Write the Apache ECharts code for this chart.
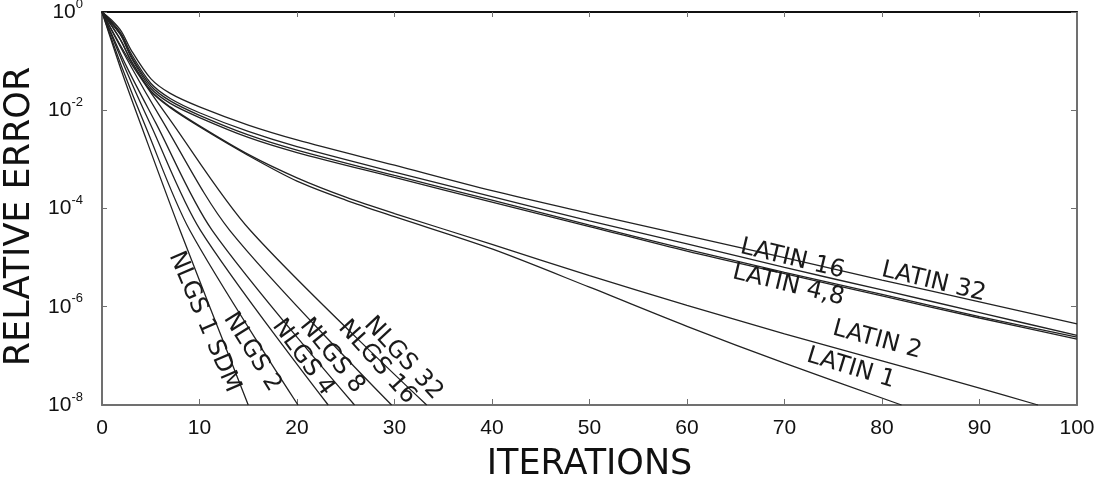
<!DOCTYPE html>
<html>
<head>
<meta charset="utf-8">
<title>Relative error vs iterations</title>
<script src="https://cdn.jsdelivr.net/npm/echarts@6/dist/echarts.min.js"></script>
<style>
  html, body { margin: 0; padding: 0; background: #fff; }
  #chart { width: 1095px; height: 484px; }
</style>
</head>
<body>
<div id="chart"></div>
<script>
// iterations sampled for the LATIN runs
const latinIter = [0, 1, 2, 3, 5, 7, 10, 15, 20, 30, 40, 50, 60, 70, 80, 90, 100]
const latin32 = [1, 0.68, 0.40, 0.166, 4.4e-2, 2.2e-2, 1.17e-2, 5.0e-3, 2.5e-3, 7.6e-4, 2.3e-4, 7.9e-5, 2.8e-5, 1.0e-5, 3.5e-6, 1.26e-6, 4.5e-7]
const latin16 = [1, 0.63, 0.355, 0.141, 3.55e-2, 1.74e-2, 8.9e-3, 3.7e-3, 1.82e-3, 5.5e-4, 1.74e-4, 5.6e-5, 1.9e-5, 6.3e-6, 2.2e-6, 7.6e-7, 2.6e-7]
const latin8 = [1, 0.60, 0.33, 0.126, 3.16e-2, 1.55e-2, 7.9e-3, 3.16e-3, 1.55e-3, 4.7e-4, 1.48e-4, 4.6e-5, 1.48e-5, 5.0e-6, 1.78e-6, 6.3e-7, 2.4e-7]
const latin4 = [1, 0.575, 0.316, 0.117, 2.8e-2, 1.38e-2, 7.1e-3, 2.8e-3, 1.38e-3, 4.3e-4, 1.35e-4, 4.3e-5, 1.35e-5, 4.7e-6, 1.66e-6, 5.9e-7, 2.2e-7]

const latin2Iter = [0, 1, 2, 3, 5, 7, 10, 15, 20, 25, 30, 40, 50, 60, 70, 80, 90, 96]
const latin2 = [1, 0.52, 0.25, 0.1, 2.5e-2, 1.17e-2, 4.8e-3, 1.26e-3, 4.2e-4, 1.7e-4, 7.9e-5, 1.86e-5, 4.3e-6, 1.07e-6, 2.8e-7, 7.9e-8, 2.2e-8, 1e-8]

const latin1Iter = [0, 1, 2, 3, 5, 7, 10, 15, 20, 25, 30, 40, 50, 60, 70, 82]
const latin1 = [1, 0.52, 0.25, 0.1, 2.45e-2, 1.12e-2, 4.6e-3, 1.2e-3, 3.6e-4, 1.48e-4, 6.8e-5, 1.5e-5, 2.5e-6, 4.0e-7, 7.1e-8, 1e-8]

// NLGS runs drop almost straight (in log) down to 1e-8
const nlgs1Iter = [0, 2, 4, 8, 15]
const nlgs1 = [1, 6.3e-2, 5.0e-3, 3.6e-5, 1e-8]
const nlgs2Iter = [0, 2, 4.5, 9, 20.1]
const nlgs2 = [1, 7.9e-2, 4.5e-3, 3.6e-5, 1e-8]
const nlgs4Iter = [0, 2.5, 5, 10.1, 23.2]
const nlgs4 = [1, 6.3e-2, 5.0e-3, 3.6e-5, 1e-8]
const nlgs8Iter = [0, 2.5, 5.5, 11.3, 25.9]
const nlgs8 = [1, 7.9e-2, 5.6e-3, 3.6e-5, 1e-8]
const nlgs16Iter = [0, 3, 6, 13.1, 29.7]
const nlgs16 = [1, 7.6e-2, 7.1e-3, 3.6e-5, 1e-8]
const nlgs32Iter = [0, 3, 7, 15.2, 33.3]
const nlgs32 = [1, 8.9e-2, 6.3e-3, 3.6e-5, 1e-8]

// curve labels: [text, iteration, error, angle]
const curveLabels = {
  latin32: [['LATIN 32', 85.3, 3.16e-6, -13.5]],
  latin16: [['LATIN 16', 70.8, 9.3e-6, -13.5]],
  latin8: [['LATIN 4,8', 70.4, 2.75e-6, -13.5]],
  latin4: [],
  latin2: [['LATIN 2', 79.5, 2.1e-7, -15]],
  latin1: [['LATIN 1', 76.8, 5.6e-8, -17]],
  nlgs1: [['NLGS 1 SDM', 10.5, 4.9e-7, -67]],
  nlgs2: [['NLGS 2', 15.4, 1.2e-7, -58]],
  nlgs4: [['NLGS 4', 20.6, 9.3e-8, -54]],
  nlgs8: [['NLGS 8', 23.6, 1.0e-7, -51]],
  nlgs16: [['NLGS 16', 28.2, 7.4e-8, -48]],
  nlgs32: [['NLGS 32', 30.9, 8.9e-8, -47]],
}

const LINE_COLOR = '#222'
const FRAME_GRAY = '#707070'
const LABEL_FONT = 'DejaVu Sans'

const pairs = (xs, ys) => xs.map((x, i) => [x, ys[i]])

const makeSeries = (key, xs, ys) => ({
  name: key,
  type: 'line',
  data: pairs(xs, ys),
  showSymbol: false,
  smooth: 0.3,
  clip: true,
  lineStyle: { color: LINE_COLOR, width: 1.3 },
  emphasis: { disabled: true },
  markPoint: {
    symbol: 'circle',
    symbolSize: 1,
    itemStyle: { color: 'rgba(0,0,0,0)' },
    data: curveLabels[key].map(([text, x, y, angle]) => ({
      coord: [x, y],
      label: {
        show: true,
        position: 'inside',
        formatter: text,
        rotate: angle,
        fontFamily: LABEL_FONT,
        fontSize: 24,
        color: '#1a1a1a',
      },
    })),
  },
})

const supLabel = (v) => {
  const e = Math.round(Math.log10(v))
  return '{b|10}{s|' + e + '}'
}

const chart = echarts.init(document.getElementById('chart'), null, { renderer: 'canvas' })

chart.setOption({
  animation: false,
  backgroundColor: '#fff',
  // fixed plot box, don't let labels/names shrink it
  grid: { left: 102, right: 18, top: 12, bottom: 79, outerBoundsMode: 'none', containLabel: false },
  xAxis: [
    {
      type: 'value',
      min: 0,
      max: 100,
      interval: 10,
      name: 'ITERATIONS',
      nameLocation: 'middle',
      nameGap: 42,
      nameTextStyle: { fontFamily: LABEL_FONT, fontSize: 35, color: '#111' },
      axisLine: { show: true, onZero: false, lineStyle: { color: FRAME_GRAY, width: 2 } },
      axisTick: { show: true, inside: true, length: 6, lineStyle: { color: FRAME_GRAY } },
      axisLabel: { fontFamily: 'Liberation Sans', fontSize: 21, color: '#111', margin: 13 },
      splitLine: { show: false },
    },
    {
      type: 'value',
      position: 'top',
      min: 0,
      max: 100,
      interval: 10,
      axisLine: { show: true, onZero: false, lineStyle: { color: '#111', width: 2 } },
      axisTick: { show: true, inside: true, length: 5, lineStyle: { color: FRAME_GRAY } },
      axisLabel: { show: false },
      splitLine: { show: false },
    },
  ],
  yAxis: [
    {
      type: 'log',
      logBase: 100,
      min: 1e-8,
      max: 1,
      name: 'RELATIVE ERROR',
      nameLocation: 'middle',
      nameGap: 56,
      nameRotate: 90,
      // extra padding on the text's end pushes it a bit lower on screen
      nameTextStyle: { fontFamily: LABEL_FONT, fontSize: 35, color: '#111', padding: [0, 16, 0, 0] },
      axisLine: { show: true, onZero: false, lineStyle: { color: FRAME_GRAY, width: 2 } },
      axisTick: { show: true, inside: true, length: 5, lineStyle: { color: FRAME_GRAY } },
      axisLabel: {
        formatter: supLabel,
        margin: 19,
        color: '#111',
        rich: {
          b: { fontFamily: 'Liberation Sans', fontSize: 21, color: '#111' },
          s: { fontFamily: 'Liberation Sans', fontSize: 13, color: '#111', padding: [0, 0, 16, 0] },
        },
      },
      splitLine: { show: false },
    },
    {
      type: 'log',
      logBase: 100,
      min: 1e-8,
      max: 1,
      position: 'right',
      axisLine: { show: true, onZero: false, lineStyle: { color: FRAME_GRAY, width: 2 } },
      axisTick: { show: true, inside: true, length: 6, lineStyle: { color: FRAME_GRAY } },
      axisLabel: { show: false },
      splitLine: { show: false },
    },
  ],
  series: [
    makeSeries('latin32', latinIter, latin32),
    makeSeries('latin16', latinIter, latin16),
    makeSeries('latin8', latinIter, latin8),
    makeSeries('latin4', latinIter, latin4),
    makeSeries('latin2', latin2Iter, latin2),
    makeSeries('latin1', latin1Iter, latin1),
    makeSeries('nlgs1', nlgs1Iter, nlgs1),
    makeSeries('nlgs2', nlgs2Iter, nlgs2),
    makeSeries('nlgs4', nlgs4Iter, nlgs4),
    makeSeries('nlgs8', nlgs8Iter, nlgs8),
    makeSeries('nlgs16', nlgs16Iter, nlgs16),
    makeSeries('nlgs32', nlgs32Iter, nlgs32),
  ],
})
</script>
</body>
</html>
